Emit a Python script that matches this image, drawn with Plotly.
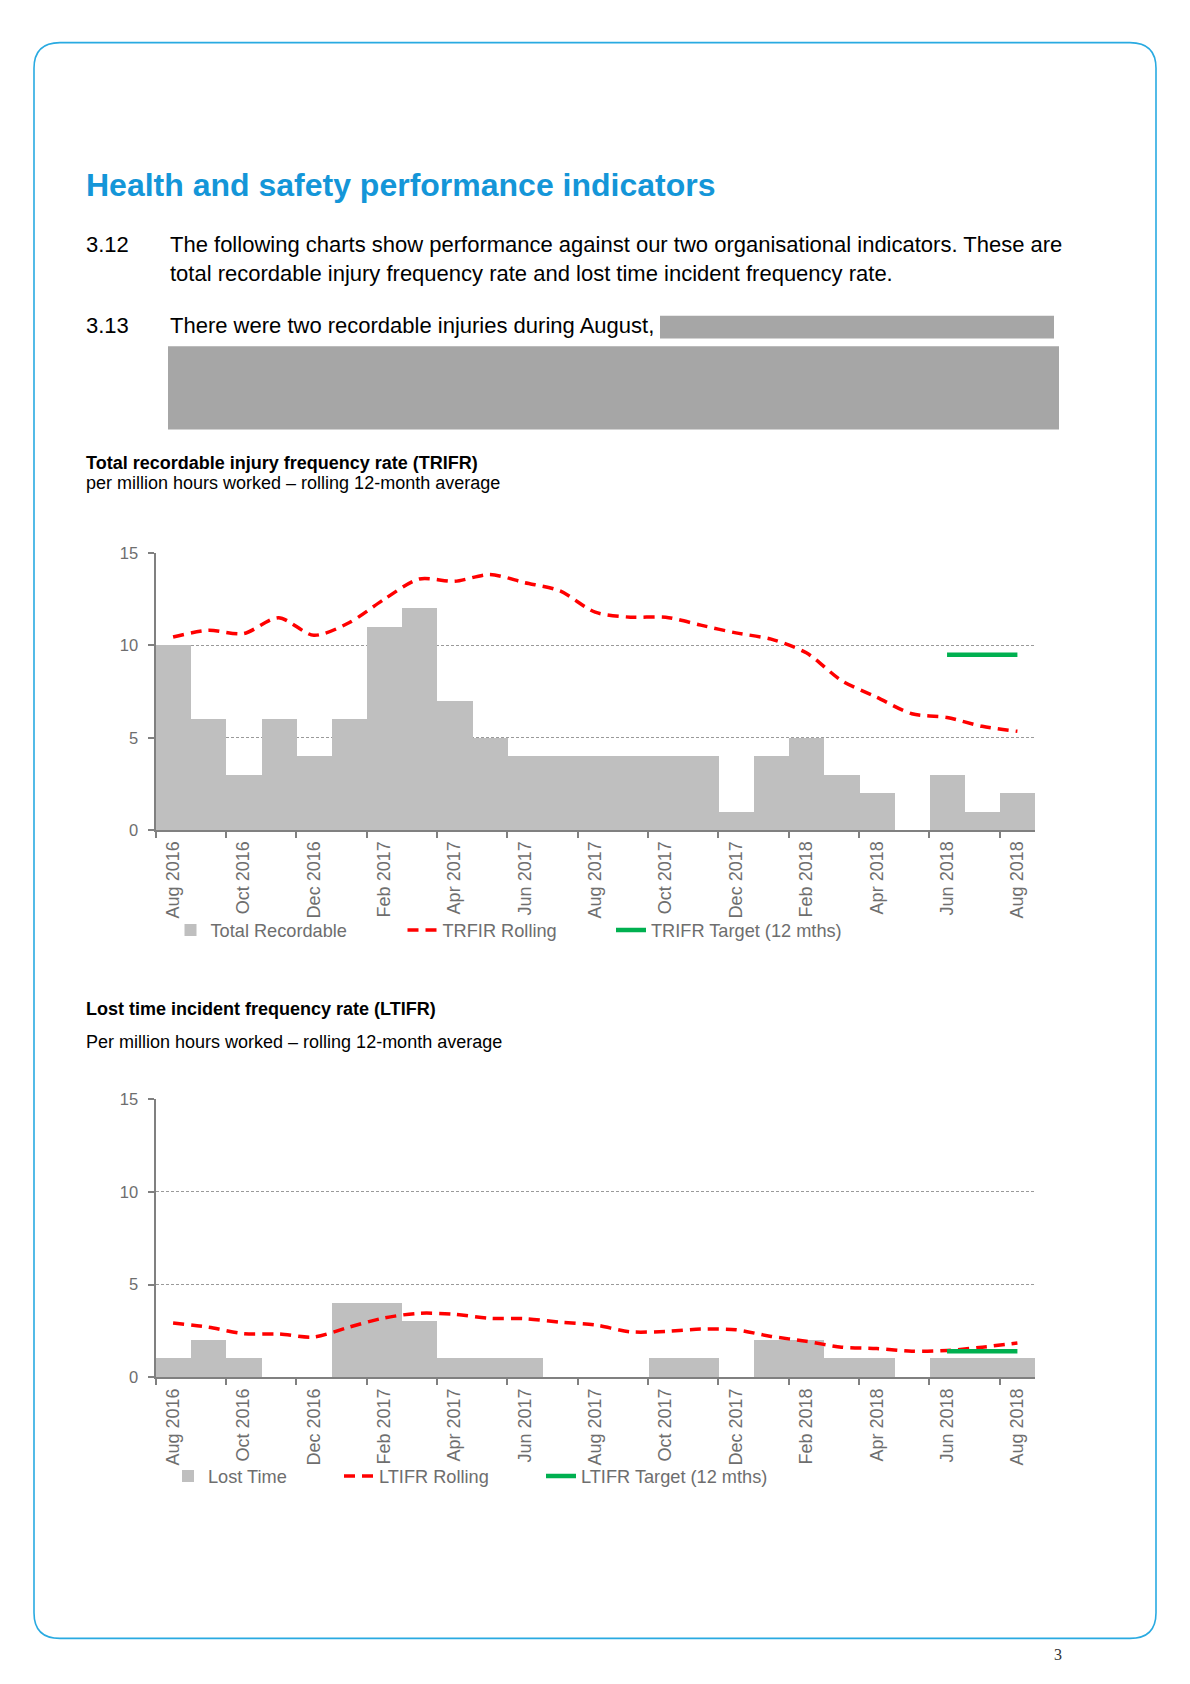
import plotly.graph_objects as go

W, H = 1190, 1684

# ---------------- data ----------------
months = ["Aug 2016", "Sep 2016", "Oct 2016", "Nov 2016", "Dec 2016", "Jan 2017",
          "Feb 2017", "Mar 2017", "Apr 2017", "May 2017", "Jun 2017", "Jul 2017",
          "Aug 2017", "Sep 2017", "Oct 2017", "Nov 2017", "Dec 2017", "Jan 2018",
          "Feb 2018", "Mar 2018", "Apr 2018", "May 2018", "Jun 2018", "Jul 2018",
          "Aug 2018"]

trifr_total = [10, 6, 3, 6, 4, 6, 11, 12, 7, 5, 4, 4, 4, 4, 4, 4, 1, 4, 5, 3, 2, 0, 3, 1, 2]
trifr_rolling = [10.46, 10.82, 10.64, 11.5, 10.55, 11.23, 12.5, 13.6, 13.47, 13.84, 13.4, 12.95,
                 11.8, 11.53, 11.53, 11.1, 10.68, 10.34, 9.6, 8.1, 7.2, 6.3, 6.1, 5.62, 5.35]
trifr_target = [None] * 22 + [9.5, 9.5, 9.5]

ltifr_lost = [1, 2, 1, 0, 0, 4, 4, 3, 1, 1, 1, 0, 0, 0, 1, 1, 0, 2, 2, 1, 1, 0, 1, 1, 1]
ltifr_rolling = [2.92, 2.7, 2.35, 2.33, 2.17, 2.7, 3.2, 3.45, 3.4, 3.18, 3.16, 2.97,
                 2.82, 2.45, 2.47, 2.6, 2.56, 2.2, 1.94, 1.62, 1.55, 1.4, 1.44, 1.62, 1.85]
ltifr_target = [None] * 22 + [1.4, 1.4, 1.4]

y_ticks = [0, 5, 10, 15]

# ---------------- helpers ----------------
def px(x):
    return x / W


def py(y):
    return 1 - y / H


FONT = "Liberation Sans, Arial, sans-serif"
GREY_TXT = "#6e6e6e"
AXIS = "#808080"
BAR = "#bfbfbf"
RED = "#ff0000"
GREEN = "#00b050"

idx = list(range(len(months)))

fig = go.Figure()

# ---- chart 1 ----
fig.add_trace(go.Bar(x=idx, y=trifr_total, name="Total Recordable", marker=dict(color=BAR, line=dict(width=0)),
                     xaxis="x", yaxis="y", legend="legend"))
fig.add_trace(go.Scatter(x=idx, y=trifr_rolling, name="TRFIR Rolling", mode="lines",
                         line=dict(color=RED, width=3.5, dash="11px,7px", shape="spline", smoothing=0.8),
                         xaxis="x", yaxis="y", legend="legend2"))
fig.add_trace(go.Scatter(x=idx, y=trifr_target, name="TRIFR Target (12 mths)", mode="lines",
                         line=dict(color=GREEN, width=4.5), xaxis="x", yaxis="y", legend="legend3"))

# ---- chart 2 ----
fig.add_trace(go.Bar(x=idx, y=ltifr_lost, name="Lost Time", marker=dict(color=BAR, line=dict(width=0)),
                     xaxis="x2", yaxis="y2", legend="legend4"))
fig.add_trace(go.Scatter(x=idx, y=ltifr_rolling, name="LTIFR Rolling", mode="lines",
                         line=dict(color=RED, width=3.5, dash="11px,7px", shape="spline", smoothing=0.8),
                         xaxis="x2", yaxis="y2", legend="legend5"))
fig.add_trace(go.Scatter(x=idx, y=ltifr_target, name="LTIFR Target (12 mths)", mode="lines",
                         line=dict(color=GREEN, width=4.5), xaxis="x2", yaxis="y2", legend="legend6"))


def xaxis_cfg(anchor):
    return dict(
        domain=[px(155.5), px(1035)], anchor=anchor, range=[-0.5, len(months) - 0.5],
        tickmode="array", tickvals=idx[::2], ticktext=months[::2], tickangle=-90,
        ticks="", ticklabelstandoff=2,
        tickfont=dict(family=FONT, size=18, color=GREY_TXT),
        showline=True, linecolor=AXIS, linewidth=2, showgrid=False, zeroline=False,
        minor=dict(tickmode="array", tickvals=[i - 0.5 for i in idx[::2]], ticks="outside",
                   ticklen=6, tickwidth=1.5, tickcolor=AXIS, showgrid=False),
        fixedrange=True,
    )


def yaxis_cfg(anchor, top, bottom):
    return dict(
        domain=[py(bottom), py(top)], anchor=anchor, range=[0, 15],
        tickmode="array", tickvals=y_ticks, ticks="outside", ticklen=6, tickwidth=1.5, tickcolor=AXIS,
        ticklabelstandoff=6,
        tickfont=dict(family=FONT, size=16.5, color=GREY_TXT),
        showline=True, linecolor=AXIS, linewidth=2,
        showgrid=True, gridcolor="#9a9a9a", gridwidth=1, griddash="3px,2px", zeroline=False,
        fixedrange=True,
    )


def legend_cfg(text_x, y):
    return dict(orientation="h", xanchor="left", yanchor="middle", bgcolor="rgba(0,0,0,0)",
                font=dict(family=FONT, size=18.2, color=GREY_TXT), itemwidth=30,
                x=px(text_x - 40), y=py(y))


fig.update_layout(
    width=W, height=H, margin=dict(l=0, r=0, t=0, b=0),
    paper_bgcolor="white", plot_bgcolor="white", bargap=0,
    font=dict(family=FONT),
    xaxis=xaxis_cfg("y"), yaxis=yaxis_cfg("x", 550, 830),
    xaxis2=xaxis_cfg("y2"), yaxis2=yaxis_cfg("x2", 1102, 1383),
    legend=legend_cfg(210.5, 931),
    legend2=legend_cfg(442.5, 931),
    legend3=legend_cfg(651, 931),
    legend4=legend_cfg(208, 1483),
    legend5=legend_cfg(379, 1483),
    legend6=legend_cfg(581, 1483),
    showlegend=True,
)

# ---------------- page decorations ----------------
x0, x1, y0, y1, r = 34, 1156, 34, 1647, 26


def P(x, y):
    return f"{px(x):.6f},{py(y):.6f}"


border = (f"M{P(x0 + r, y0)} L{P(x1 - r, y0)} Q{P(x1, y0)} {P(x1, y0 + r)} "
          f"L{P(x1, y1 - r)} Q{P(x1, y1)} {P(x1 - r, y1)} L{P(x0 + r, y1)} "
          f"Q{P(x0, y1)} {P(x0, y1 - r)} L{P(x0, y0 + r)} Q{P(x0, y0)} {P(x0 + r, y0)} Z")
fig.add_shape(type="path", path=border, xref="paper", yref="paper",
              line=dict(color="#29aae1", width=1.6), layer="below")

# redaction boxes
for bx0, by0, bx1, by1 in [(660, 310, 1054, 333), (168, 341, 1059, 425)]:
    fig.add_shape(type="rect", xref="paper", yref="paper", x0=px(bx0), x1=px(bx1), y0=py(by1), y1=py(by0),
                  fillcolor="#a6a6a6", line=dict(width=0), layer="below")

texts = [
    ("<b>Health and safety performance indicators</b>", 84, 178, 32, "#1496d8"),
    ("3.12", 84, 238, 22, "#000000"),
    ("The following charts show performance against our two organisational indicators. These are", 168, 238, 22, "#000000"),
    ("total recordable injury frequency rate and lost time incident frequency rate.", 168, 267, 22, "#000000"),
    ("3.13", 84, 320, 22, "#000000"),
    ("There were two recordable injuries during August,", 168, 320, 22, "#000000"),
    ("<b>Total recordable injury frequency rate (TRIFR)</b>", 84, 459, 18, "#000000"),
    ("per million hours worked \u2013 rolling 12-month average", 84, 479, 18, "#000000"),
    ("<b>Lost time incident frequency rate (LTIFR)</b>", 84, 1011, 18, "#000000"),
    ("Per million hours worked \u2013 rolling 12-month average", 84, 1044, 18, "#000000"),
]
for t, x, y, s, c in texts:
    fig.add_annotation(text=t, x=px(x), y=py(y), xref="paper", yref="paper", xanchor="left", yanchor="middle",
                       showarrow=False, font=dict(family=FONT, size=s, color=c))

fig.add_annotation(text="3", x=px(1058), y=py(1663), xref="paper", yref="paper", xanchor="center",
                   yanchor="middle", showarrow=False,
                   font=dict(family="Liberation Serif, Times New Roman, serif", size=16, color="#333333"))

fig.write_html("out.html", config={"displayModeBar": False},
               post_script="document.body.style.margin='0';document.body.style.overflow='hidden';")
